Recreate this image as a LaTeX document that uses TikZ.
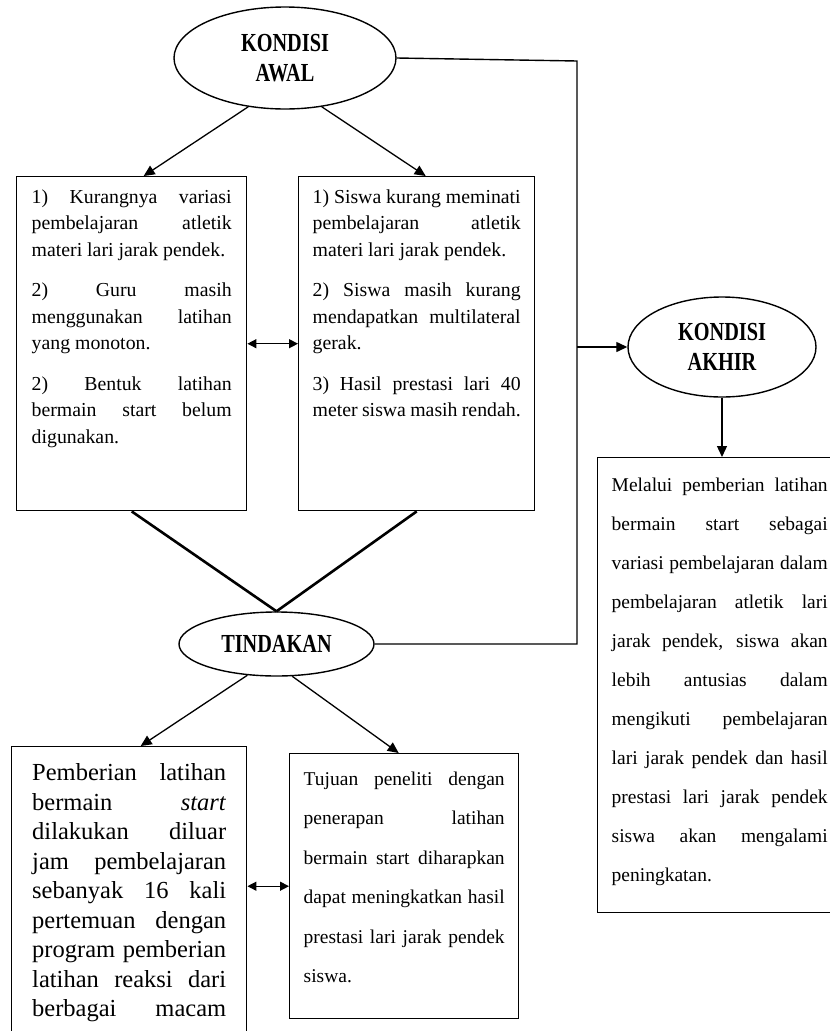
\documentclass[tikz,border=0pt]{standalone}
\usepackage{fontspec}
\usepackage{graphicx}
\setmainfont{Liberation Serif}
\usetikzlibrary{shapes, positioning, arrows.meta}

\newcommand{\sempit}[1]{\scalebox{0.78}[1]{#1}}
\newcommand{\jeda}{\par\vspace{14pt}}
\newcommand{\isi}[3]{\begin{minipage}[c][#2][t]{#1}#3\end{minipage}}
\tolerance=10000
\hyphenpenalty=10000
\exhyphenpenalty=10000

\begin{document}
\begin{tikzpicture}[x=1pt, y=-1pt,
        judul/.style={ellipse, draw, line width=1.4pt, inner sep=0pt, align=center, font=\fontsize{26}{30}\selectfont\bfseries},
        kotak/.style={rectangle, draw, line width=1.4pt, anchor=north west, font=\fontsize{19.8}{26.5}\selectfont},
        panah/.style={-{Triangle[length=11pt, width=10pt]}, line width=1.3pt},
        duapanah/.style={{Triangle[length=9pt, width=9pt]}-{Triangle[length=9pt, width=9pt]}, line width=1.3pt},
        garis/.style={line width=1.4pt},
        tebal/.style={line width=2.6pt}]
        \clip (0,0) rectangle (830,1031);

        \node[judul, minimum width=222pt, minimum height=102pt] (awal) at (285,58) {\sempit{KONDISI}\\\sempit{AWAL}};
        \node[judul, minimum width=195pt, minimum height=64pt] (tindakan) at (276.5,644) {\sempit{TINDAKAN}};
        \node[judul, minimum width=188pt, minimum height=100pt] (akhir) at (722,347) {\sempit{KONDISI}\\\sempit{AKHIR}};

        \node[kotak, inner xsep=15pt, inner ysep=13pt] (kiri) at (16,176) {\isi{200pt}{308pt}{1) Kurangnya variasi\linebreak pembelajaran atletik\linebreak materi lari jarak pendek.\jeda 2) Guru masih\linebreak menggunakan latihan\linebreak yang monoton.\jeda 2) Bentuk latihan\linebreak bermain start belum\linebreak digunakan.}};
        \node[kotak, inner xsep=14pt, inner ysep=13pt] (kanan) at (298,176) {\isi{208pt}{308pt}{1) Siswa kurang meminati\linebreak pembelajaran atletik\linebreak materi lari jarak pendek.\jeda 2) Siswa masih kurang\linebreak mendapatkan multilateral\linebreak gerak.\jeda 3) Hasil prestasi lari 40\linebreak meter siswa masih rendah.}};
        \node[kotak, inner xsep=14pt, inner ysep=20pt, font=\fontsize{19.5}{39}\selectfont] (hasil) at (597,457) {\isi{216pt}{415pt}{Melalui pemberian latihan\linebreak bermain start sebagai\linebreak variasi pembelajaran dalam\linebreak pembelajaran atletik lari\linebreak jarak pendek, siswa akan\linebreak lebih antusias dalam\linebreak mengikuti pembelajaran\linebreak lari jarak pendek dan hasil\linebreak prestasi lari jarak pendek\linebreak siswa akan mengalami\linebreak peningkatan.}};
        \node[kotak, inner xsep=20.5pt, inner ysep=17pt, font=\fontsize{24.5}{29.5}\selectfont] (latihan) at (11,746) {\isi{194pt}{266pt}{Pemberian latihan\linebreak bermain \textit{start}\linebreak dilakukan diluar\linebreak jam pembelajaran\linebreak sebanyak 16 kali\linebreak pertemuan dengan\linebreak program pemberian\linebreak latihan reaksi dari\linebreak berbagai\hspace{0pt plus 1filll}macam}};
        \node[kotak, inner xsep=14pt, inner ysep=18pt, font=\fontsize{19.5}{39.5}\selectfont] (tujuan) at (289,753) {\isi{201pt}{229pt}{Tujuan peneliti dengan\linebreak penerapan latihan\linebreak bermain start diharapkan\linebreak dapat meningkatkan hasil\linebreak prestasi lari jarak pendek\linebreak siswa.}};

        \coordinate (pojokatas) at (577,61);
        \coordinate (cabang) at (577,347);

        \draw[panah] (awal.233) to ([xshift=12pt]kiri.north);
        \draw[panah] (awal.307) to ([xshift=9pt]kanan.north);
        \draw[duapanah] (kiri.east) to (kanan.west);
        \draw[tebal] (kiri.south) to (tindakan.north)
            (kanan.south) to (tindakan.north);
        \draw[garis] (tindakan.east) -- (tindakan.east -| pojokatas) -- (pojokatas) -- (awal.east);
        \draw[panah] (cabang) to (akhir.west);
        \draw[panah] (akhir.south) to (akhir.south |- hasil.north);
        \draw[panah] (tindakan.227) to ([xshift=11.5pt]latihan.north);
        \draw[panah] (tindakan.296) to ([xshift=-5.5pt]tujuan.north);
        \draw[duapanah] (tujuan.west -| latihan.east) to (tujuan.west);
    \end{tikzpicture}
\end{document}
